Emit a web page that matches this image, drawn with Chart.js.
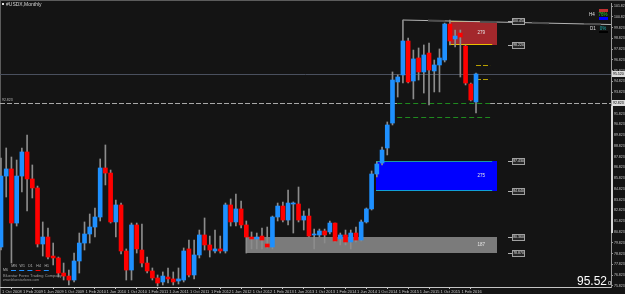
<!DOCTYPE html>
<html>
<head>
<meta charset="utf-8">
<title>USDX Monthly</title>
<script src="https://cdn.jsdelivr.net/npm/chart.js@4.4.1/dist/chart.umd.min.js"></script>
<style>
  html, body { margin: 0; padding: 0; background: #141414; }
  #wrap { position: relative; width: 625px; height: 294px; }
</style>
</head>
<body>
<div id="wrap"><canvas id="chart"></canvas></div>
<script>
// ---- Monthly candles, Oct 2008 .. May 2016 ----
const open = [79.43, 86.03, 86.69, 81.66, 86.03, 88.27, 85.76, 84.92, 79.71, 80.36,
  78.59, 78.41, 77.01, 76.73, 76.36, 78.13, 79.80, 80.64, 81.29, 82.22,
  86.78, 86.31, 81.76, 83.34, 79.06, 77.29, 81.48, 79.15, 77.94, 77.20,
  76.55, 76.18, 76.64, 76.46, 76.27, 76.36, 79.25, 76.83, 78.69, 80.55,
  79.62, 79.06, 79.25, 79.06, 83.34, 81.76, 82.97, 81.48, 80.36, 80.18,
  80.45, 79.71, 79.43, 82.22, 83.24, 81.94, 83.43, 83.43, 81.94, 82.31,
  80.55, 80.55, 80.92, 80.83, 81.66, 80.18, 80.55, 79.90, 80.73, 80.08,
  81.76, 82.97, 86.22, 87.24, 88.64, 90.96, 94.78, 95.43, 98.59, 94.87,
  97.01, 95.71, 97.47, 95.80, 96.36, 96.82, 100.17, 98.78, 99.33, 98.12,
  94.59, 92.92];
const high = [87.71, 88.64, 87.80, 87.52, 88.64, 89.85, 87.06, 85.10, 81.76, 81.20,
  79.80, 78.50, 77.94, 77.29, 78.87, 80.73, 81.76, 82.50, 83.06, 87.62,
  88.92, 86.59, 83.80, 83.52, 79.25, 81.66, 81.66, 81.57, 78.50, 77.48,
  76.83, 77.11, 77.48, 77.11, 77.48, 79.34, 80.08, 80.08, 81.01, 82.13,
  80.45, 81.01, 80.45, 83.52, 83.90, 84.36, 83.71, 81.85, 80.83, 80.73,
  81.20, 81.29, 82.31, 83.52, 83.62, 84.73, 83.62, 85.01, 82.78, 82.97,
  81.10, 81.10, 81.10, 81.85, 81.66, 80.73, 81.01, 81.01, 81.29, 81.94,
  83.06, 86.50, 87.34, 88.73, 91.06, 95.71, 95.43, 100.54, 98.87, 97.75,
  97.94, 98.22, 98.40, 96.82, 97.85, 100.26, 100.54, 99.61, 99.61, 98.22,
  94.68, 95.61];
const low = [79.15, 84.08, 77.94, 81.38, 84.55, 82.78, 83.99, 79.43, 78.59, 78.32,
  77.76, 76.64, 76.36, 75.90, 76.18, 77.01, 79.15, 79.80, 80.36, 81.85,
  85.20, 81.66, 80.36, 78.78, 76.36, 76.36, 78.87, 77.57, 77.01, 76.36,
  75.80, 75.90, 76.08, 75.90, 75.99, 76.18, 76.64, 76.46, 78.41, 79.15,
  78.50, 78.87, 78.87, 78.87, 81.38, 81.38, 81.20, 78.87, 79.25, 79.25,
  79.25, 79.34, 79.25, 81.85, 81.76, 81.48, 80.73, 81.76, 81.01, 80.36,
  79.25, 80.36, 79.80, 80.64, 79.90, 79.62, 79.62, 79.25, 79.90, 79.99,
  81.66, 82.87, 85.94, 87.06, 87.99, 90.78, 93.38, 94.68, 94.68, 93.20,
  94.96, 93.75, 92.64, 93.85, 93.85, 96.64, 98.22, 98.03, 95.24, 94.50,
  93.01, 91.89];
const close = [86.03, 86.69, 81.66, 86.03, 88.27, 85.76, 84.92, 79.71, 80.36, 78.50,
  78.41, 77.01, 76.73, 76.36, 78.13, 79.80, 80.64, 81.29, 82.22, 86.78,
  86.31, 81.76, 83.34, 79.06, 77.29, 81.48, 79.25, 77.94, 77.20, 76.55,
  76.08, 76.73, 76.46, 76.18, 76.46, 79.06, 76.83, 78.69, 80.55, 79.62,
  79.15, 79.25, 79.06, 83.34, 81.76, 82.97, 81.48, 80.36, 80.18, 80.36,
  80.08, 79.43, 82.22, 83.24, 81.94, 83.52, 83.52, 81.94, 82.31, 80.45,
  80.55, 80.92, 80.55, 81.66, 79.99, 80.55, 79.90, 80.73, 80.08, 81.76,
  82.97, 86.22, 87.15, 88.45, 90.78, 94.96, 95.24, 98.59, 94.78, 96.92,
  95.71, 97.29, 95.89, 96.36, 97.01, 100.17, 98.59, 99.05, 98.96, 94.68,
  93.10, 95.52];

// time axis (bar index -> label)
const xTickIndex = [0, 4, 8, 12, 16, 20, 24, 28, 32, 36, 40, 44, 48, 52, 56, 60, 64, 68, 72, 76, 80, 84, 88];
const xTickText = ['1 Oct 2008', '1 Feb 2009', '1 Jun 2009', '1 Oct 2009', '1 Feb 2010', '1 Jun 2010',
  '1 Oct 2010', '1 Feb 2011', '1 Jun 2011', '1 Oct 2011', '1 Feb 2012', '1 Jun 2012', '1 Oct 2012',
  '1 Feb 2013', '1 Jun 2013', '1 Oct 2013', '1 Feb 2014', '1 Jun 2014', '1 Oct 2014', '1 Feb 2015',
  '1 Jun 2015', '1 Oct 2015', '1 Feb 2016'];

// price axis
const yTicks = [101.823, 100.823, 99.823, 98.823, 97.823, 96.823, 95.823, 94.823, 93.823,
  92.823, 91.823, 90.823, 89.823, 88.823, 87.823, 86.823, 85.823, 84.823, 83.823,
  82.823, 81.823, 80.823, 79.823, 78.823, 77.823, 76.823, 75.823];

// supply / demand zones
const zoneStart = [86, 71.9, 46.9];
const zoneEnd = [95, 95, 95];
const zoneHigh = [100.45, 87.43, 80.36];
const zoneLow = [98.22, 84.64, 78.87];
const zoneCount = ['279', '275', '187'];

// other levels
const bidPrice = 95.52;
const levelPrice = 92.823;
const greenLevels = [92.823, 91.52];
const yellowLevels = [96.36, 95.06];
const trendX = [77, 118];
const trendY = [100.54, 100.11];

// styles
const bull = '#1e90ff', bear = '#ff0000';
const zoneFill = ['#a3282c', '#0000ff', '#7b7b7b'];
const zoneTopEdge = ['#e8a800', '#1a9aa0', null];
const zoneBotEdge = ['#e8c000', '#10a0d8', null];
const FONT = '"Liberation Sans", Arial, sans-serif';

const idx = open.map((_, i) => i);

function txt(ctx, s, x, y, size, color, align) {
  ctx.font = size + 'px ' + FONT;
  ctx.fillStyle = color;
  ctx.textAlign = align || 'left';
  ctx.textBaseline = 'middle';
  ctx.fillText(s, x, y);
}

function hLine(ctx, x0, x1, yy, color, dash, w) {
  ctx.strokeStyle = color;
  ctx.lineWidth = w || 1;
  ctx.setLineDash(dash || []);
  ctx.beginPath();
  ctx.moveTo(x0, Math.round(yy) + 0.5);
  ctx.lineTo(x1, Math.round(yy) + 0.5);
  ctx.stroke();
  ctx.setLineDash([]);
}

const background = {
  id: 'background',
  beforeDraw(chart) {
    const { ctx, width, height } = chart;
    ctx.save();
    ctx.fillStyle = '#141414';
    ctx.fillRect(0, 0, width, height);
    ctx.fillStyle = '#5c5c5c';
    ctx.fillRect(0, 0, width, 1);
    ctx.fillRect(0, 0, 1, height);
    ctx.restore();
  }
};

// zones and levels go behind the candles
const objects = {
  id: 'objects',
  beforeDatasetsDraw(chart) {
    const { ctx, chartArea: a, scales: { x, y } } = chart;
    ctx.save();
    ctx.beginPath();
    ctx.rect(a.left, a.top, a.right - a.left, a.bottom - a.top);
    ctx.clip();

    zoneStart.forEach((s, i) => {
      const x0 = Math.round(x.getPixelForValue(s));
      const x1 = Math.round(x.getPixelForValue(zoneEnd[i]));
      const y0 = Math.round(y.getPixelForValue(zoneHigh[i]));
      const y1 = Math.round(y.getPixelForValue(zoneLow[i]));
      ctx.fillStyle = zoneFill[i];
      ctx.fillRect(x0, y0, x1 - x0, y1 - y0);
      const xe = x.getPixelForValue(94.1);
      if (zoneTopEdge[i]) hLine(ctx, x0, xe, y0, zoneTopEdge[i], [], 1);
      if (zoneBotEdge[i]) hLine(ctx, x0, xe, y1 - 1, zoneBotEdge[i], [], 1);
    });

    hLine(ctx, a.left, a.right, y.getPixelForValue(bidPrice), '#4a505e');
    hLine(ctx, a.left, a.right, y.getPixelForValue(levelPrice), '#a8a8a8', [5, 2]);

    const gx0 = x.getPixelForValue(75.9), gx1 = x.getPixelForValue(93.7);
    ctx.fillStyle = '#141414';
    ctx.fillRect(gx0, Math.round(y.getPixelForValue(greenLevels[0])), gx1 - gx0, 1);
    greenLevels.forEach(p => hLine(ctx, gx0, gx1, y.getPixelForValue(p), '#1f8a1f', [5, 3]));

    const yx0 = x.getPixelForValue(91), yx1 = x.getPixelForValue(93.7);
    yellowLevels.forEach(p => hLine(ctx, yx0, yx1, y.getPixelForValue(p), '#b8a000', [5, 2]));
    ctx.restore();
  }
};

const labels = {
  id: 'labels',
  afterDraw(chart) {
    const { ctx, chartArea: a, scales: { x, y } } = chart;
    ctx.save();

    // zone counts and level tags
    zoneStart.forEach((s, i) => {
      const yc = (y.getPixelForValue(zoneHigh[i]) + y.getPixelForValue(zoneLow[i])) / 2;
      txt(ctx, zoneCount[i], x.getPixelForValue(92), yc, 4.5, '#e6e6e6', 'center');
      [zoneHigh[i], zoneLow[i]].forEach(p => {
        const yy = Math.round(y.getPixelForValue(p));
        const bx = Math.round(x.getPixelForValue(97.9));
        hLine(ctx, bx - 4, bx, yy, '#b0b0b0');
        ctx.fillStyle = '#262626';
        ctx.fillRect(bx, yy - 3, 13, 6);
        ctx.strokeStyle = '#a0a0a0';
        ctx.lineWidth = 1;
        ctx.strokeRect(bx + 0.5, yy - 2.5, 12, 6);
        txt(ctx, p.toFixed(3), bx + 6.5, yy + 0.5, 3.5, '#e0e0e0', 'center');
      });
    });

    // level tag on the left
    txt(ctx, levelPrice.toFixed(3), 2, y.getPixelForValue(levelPrice) - 3, 3.5, '#bdbdbd');

    // title
    ctx.fillStyle = '#e0e0e0';
    ctx.fillRect(2, 3, 2, 2);
    txt(ctx, '#USDX,Monthly', 6, 4.5, 5, '#d6d6d6');

    // top-right strength widget
    ctx.fillStyle = '#c03030'; ctx.fillRect(599, 9, 9, 3);
    txt(ctx, 'H4', 589, 14.5, 4.5, '#e0e0e0');
    txt(ctx, '76%', 603, 14.5, 4.5, '#30d030', 'center');
    ctx.fillStyle = '#0000ff'; ctx.fillRect(599, 17, 9, 3);
    txt(ctx, 'D1', 590, 29, 4.5, '#e0e0e0');
    txt(ctx, '0%', 603, 29, 4.5, '#20b8b8', 'center');
    ctx.fillStyle = '#000000'; ctx.fillRect(599, 31, 9, 2);

    // bottom-left legend
    const tf = ['MN', 'W1', 'D1', 'H4', 'H1'];
    const tfColor = [bull, bull, bull, bear, bull];
    tf.forEach((t, i) => {
      txt(ctx, t, 14 + 8.2 * i, 266, 3.5, '#bcbcbc', 'center');
      ctx.fillStyle = tfColor[i];
      ctx.fillRect(11 + 8.2 * i, 270, 5, 1);
    });
    txt(ctx, 'M6', 3, 270.5, 3.5, '#bcbcbc');
    txt(ctx, 'Bluestar Forex Trading Company', 3, 275.5, 4, '#9a9a9a');
    txt(ctx, 'www.bluestarforex.com', 3, 280.5, 3.5, '#9a9a9a');

    // current price
    ctx.font = '12px ' + FONT;
    ctx.fillStyle = '#ffffff';
    ctx.textAlign = 'right';
    ctx.textBaseline = 'alphabetic';
    ctx.fillText(bidPrice.toFixed(2), 607, 285);
    ctx.font = '6px ' + FONT;
    ctx.textAlign = 'left';
    ctx.fillText('0', 608, 285);

    // highlighted axis tags
    [bidPrice, levelPrice].forEach(p => {
      const yy = Math.round(y.getPixelForValue(p));
      ctx.fillStyle = '#dcdcdc';
      ctx.fillRect(a.right + 1, yy - 3, 14, 6);
      txt(ctx, p.toFixed(3), a.right + 2, yy + 0.5, 3.5, '#000000');
    });
    ctx.fillStyle = '#d8d8d8';
    const sy0 = y.getPixelForValue(levelPrice), sy1 = y.getPixelForValue(80.73);
    ctx.fillRect(a.right, sy0 + 3, 2, sy1 - sy0 - 3);
    ctx.restore();
  }
};

new Chart(document.getElementById('chart'), {
  type: 'bar',
  data: {
    datasets: [
      {
        type: 'line',
        data: trendX.map((v, i) => ({ x: v, y: trendY[i] })),
        borderColor: '#b4b4b4',
        borderWidth: 1,
        pointRadius: 0,
        order: 4
      },
      {
        type: 'line',
        data: trendX.map((v, i) => ({ x: v, y: trendY[i] })),
        borderColor: '#4e4e4e',
        borderWidth: 2,
        borderDash: [17, 35],
        borderDashOffset: 27,
        pointRadius: 0,
        order: 3
      },
      {
        data: idx.map(i => ({ x: i, y: [low[i], high[i]] })),
        backgroundColor: '#8c8c8c',
        barThickness: 1,
        grouped: false,
        order: 2
      },
      {
        data: idx.map(i => ({ x: i, y: [open[i], close[i]] })),
        backgroundColor: idx.map(i => close[i] >= open[i] ? bull : bear),
        barThickness: 4,
        minBarLength: 1,
        grouped: false,
        order: 1
      }
    ]
  },
  options: {
    animation: false,
    responsive: true,
    maintainAspectRatio: false,
    layout: { padding: { left: 0, right: 0, top: 3, bottom: 0 } },
    plugins: { legend: { display: false }, tooltip: { enabled: false } },
    scales: {
      x: {
        type: 'linear',
        min: -0.19,
        max: 116.86,
        offset: false,
        border: { color: '#c4c4c4' },
        grid: { drawOnChartArea: false, drawTicks: true, tickLength: 2, color: '#c4c4c4' },
        afterBuildTicks: s => { s.ticks = xTickIndex.map(v => ({ value: v })); },
        afterFit: s => { s.height = 7; s.paddingLeft = 0; s.paddingRight = 0; },
        ticks: {
          autoSkip: false,
          maxRotation: 0,
          minRotation: 0,
          align: 'start',
          padding: 0,
          color: '#c8c8c8',
          font: { size: 4, family: FONT },
          callback: v => ' ' + (xTickText[xTickIndex.indexOf(v)] || '')
        }
      },
      y: {
        position: 'right',
        min: 75.711,
        max: 102.123,
        border: { color: '#9a9a9a' },
        grid: { drawOnChartArea: false, drawTicks: true, tickLength: 2, color: '#9a9a9a' },
        afterBuildTicks: s => { s.ticks = yTicks.map(v => ({ value: v })); },
        afterFit: s => { s.width = 14; s.paddingTop = 0; s.paddingBottom = 0; },
        ticks: {
          autoSkip: false,
          crossAlign: 'near',
          padding: 1,
          color: '#c8c8c8',
          font: { size: 3.5, family: FONT },
          callback: v => Number(v).toFixed(3)
        }
      }
    }
  },
  plugins: [background, objects, labels]
});
</script>
</body>
</html>
